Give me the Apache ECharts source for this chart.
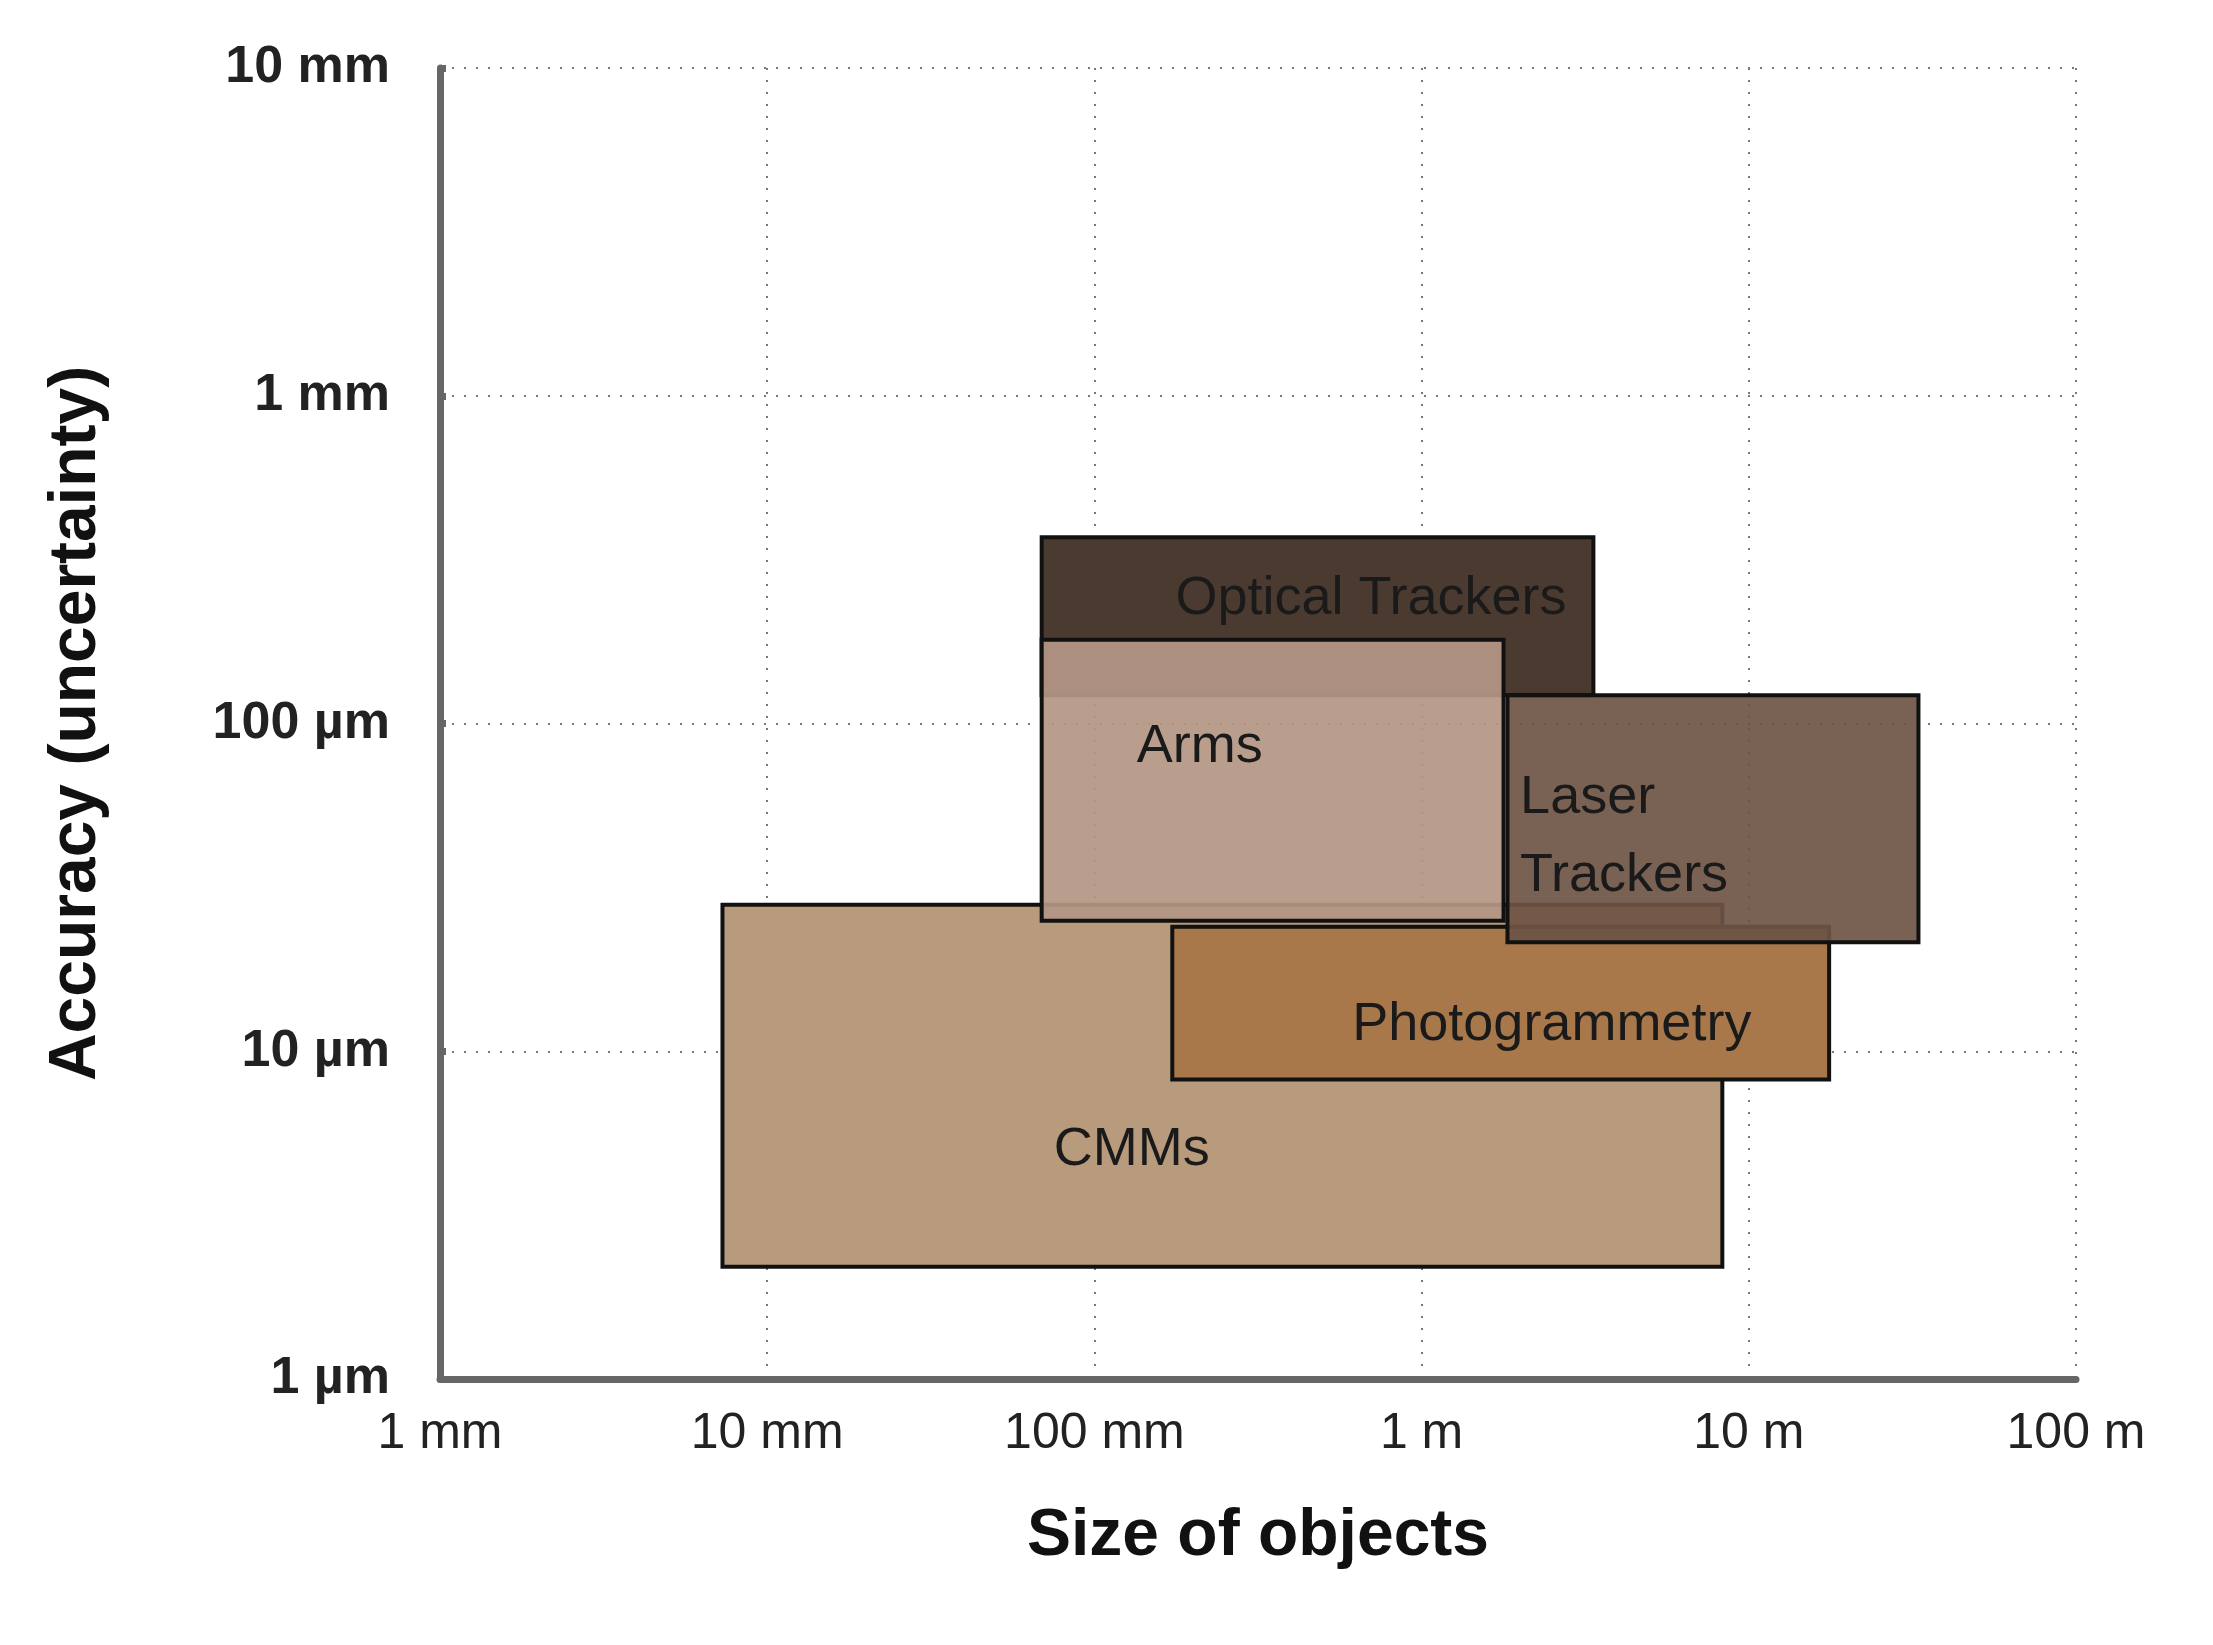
<!DOCTYPE html>
<html>
<head>
<meta charset="utf-8">
<script src="https://cdn.jsdelivr.net/npm/echarts@6/dist/echarts.min.js"></script>
<style>html,body{margin:0;background:#fff}#chart-container{width:2213px;height:1645px}</style>
</head>
<body>
<div id="chart-container"></div>
<script>
// sizes in mm (x) and uncertainty in µm (y)
var xTicks = { 1: '1 mm', 10: '10 mm', 100: '100 mm', 1000: '1 m', 10000: '10 m', 100000: '100 m' };
var yTicks = { 1: '1 µm', 10: '10 µm', 100: '100 µm', 1000: '1 mm', 10000: '10 mm' };

var names = ['CMMs', 'Photogrammetry', 'Optical Trackers', 'Laser\nTrackers', 'Arms'];
var xFrom = [7.3, 173, 69, 1830, 69];
var xTo = [8300, 17600, 3350, 33000, 1780];
var yFrom = [2.2, 8.2, 122, 21.5, 25];
var yTo = [28, 24, 370, 122, 180];
// where each name sits
var labelX = [130, 2500, 700, 2000, 210];
var labelY = [5.0, 12, 240, 45, 85];
var colors = ['#b89a7c', '#a8784b', '#4b3a2f', 'rgba(110,84,68,0.92)', 'rgba(180,150,132,0.93)'];

var dom = document.getElementById('chart-container');
var myChart = echarts.init(dom, null, { renderer: 'canvas' });

var boxes = names.map(function (n, i) { return [xFrom[i], xTo[i], yFrom[i], yTo[i], labelX[i], labelY[i], i]; });

var option = {
  animation: false,
  grid: { left: 440, right: 137, top: 68, bottom: 266 },
  xAxis: {
    type: 'log', logBase: 10, min: 1, max: 100000,
    name: 'Size of objects', nameLocation: 'middle', nameGap: 125,
    nameTextStyle: { fontSize: 66, fontWeight: 'bold', color: '#111', fontFamily: 'Liberation Sans' },
    axisLine: { lineStyle: { color: '#666', width: 7 } },
    axisTick: { show: false },
    splitLine: { show: true, lineStyle: { color: '#777', type: [2, 10], width: 2 } },
    axisLabel: { fontSize: 50, color: '#222', margin: 30, fontFamily: 'Liberation Sans',
      formatter: function (v) { return xTicks[Math.round(v)] || ''; } }
  },
  yAxis: {
    type: 'log', logBase: 10, min: 1, max: 10000,
    name: 'Accuracy (uncertainty)', nameLocation: 'middle', nameGap: 330,
    nameTextStyle: { fontSize: 66, fontWeight: 'bold', color: '#111', fontFamily: 'Liberation Sans' },
    axisLine: { show: true, lineStyle: { color: '#666', width: 7 } },
    axisTick: { show: true, inside: true, length: 6, lineStyle: { color: '#666', width: 7 } },
    splitLine: { show: true, lineStyle: { color: '#777', type: [2, 10], width: 2 } },
    axisLabel: { fontSize: 52, color: '#222', margin: 50, fontFamily: 'Liberation Sans', fontWeight: 'bold',
      formatter: function (v) { return yTicks[Math.round(v)] || ''; } }
  },
  series: [{
    type: 'custom',
    data: boxes,
    encode: { x: [0, 1, 4], y: [2, 3, 5] },
    renderItem: function (params, api) {
      var p0 = api.coord([api.value(0), api.value(3)]);
      var p1 = api.coord([api.value(1), api.value(2)]);
      var pl = api.coord([api.value(4), api.value(5)]);
      var i = api.value(6);
      var left = i === 3;
      return {
        type: 'group',
        children: [{
          type: 'rect',
          shape: { x: p0[0], y: p0[1], width: p1[0] - p0[0], height: p1[1] - p0[1] },
          style: { fill: colors[i], stroke: '#111', lineWidth: 4 }
        }, {
          type: 'text',
          x: pl[0], y: pl[1],
          style: { text: names[i], fill: '#1a1a1a', fontSize: 54, fontFamily: 'Liberation Sans',
            align: left ? 'left' : 'center', verticalAlign: 'middle', lineHeight: 78 }
        }]
      };
    }
  }]
};

myChart.setOption(option);
</script>
</body>
</html>
